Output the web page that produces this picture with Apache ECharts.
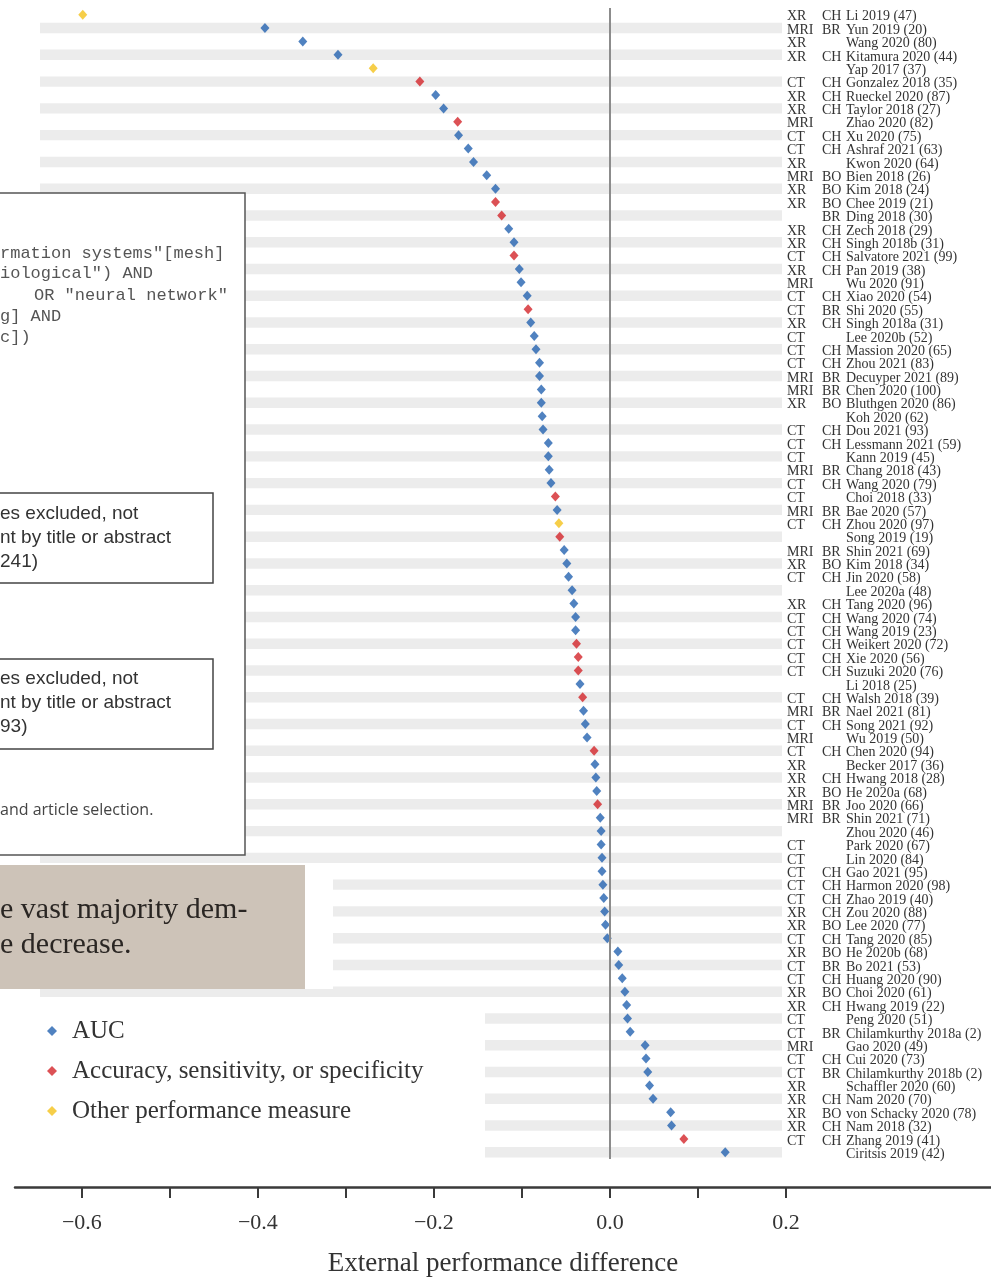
<!DOCTYPE html>
<html>
<head>
<meta charset="utf-8">
<script src="https://cdn.jsdelivr.net/npm/echarts@6/dist/echarts.min.js"></script>
<style>
  html, body { margin: 0; padding: 0; background: #fff; }
  #chart { width: 991px; height: 1277px; }
</style>
</head>
<body>
<div id="chart"></div>
<script>
// rows, top to bottom
var studies = ['Li 2019 (47)', 'Yun 2019 (20)', 'Wang 2020 (80)', 'Kitamura 2020 (44)', 'Yap 2017 (37)',
  'Gonzalez 2018 (35)', 'Rueckel 2020 (87)', 'Taylor 2018 (27)', 'Zhao 2020 (82)', 'Xu 2020 (75)',
  'Ashraf 2021 (63)', 'Kwon 2020 (64)', 'Bien 2018 (26)', 'Kim 2018 (24)', 'Chee 2019 (21)',
  'Ding 2018 (30)', 'Zech 2018 (29)', 'Singh 2018b (31)', 'Salvatore 2021 (99)', 'Pan 2019 (38)',
  'Wu 2020 (91)', 'Xiao 2020 (54)', 'Shi 2020 (55)', 'Singh 2018a (31)', 'Lee 2020b (52)',
  'Massion 2020 (65)', 'Zhou 2021 (83)', 'Decuyper 2021 (89)', 'Chen 2020 (100)', 'Bluthgen 2020 (86)',
  'Koh 2020 (62)', 'Dou 2021 (93)', 'Lessmann 2021 (59)', 'Kann 2019 (45)', 'Chang 2018 (43)',
  'Wang 2020 (79)', 'Choi 2018 (33)', 'Bae 2020 (57)', 'Zhou 2020 (97)', 'Song 2019 (19)',
  'Shin 2021 (69)', 'Kim 2018 (34)', 'Jin 2020 (58)', 'Lee 2020a (48)', 'Tang 2020 (96)',
  'Wang 2020 (74)', 'Wang 2019 (23)', 'Weikert 2020 (72)', 'Xie 2020 (56)', 'Suzuki 2020 (76)',
  'Li 2018 (25)', 'Walsh 2018 (39)', 'Nael 2021 (81)', 'Song 2021 (92)', 'Wu 2019 (50)',
  'Chen 2020 (94)', 'Becker 2017 (36)', 'Hwang 2018 (28)', 'He 2020a (68)', 'Joo 2020 (66)',
  'Shin 2021 (71)', 'Zhou 2020 (46)', 'Park 2020 (67)', 'Lin 2020 (84)', 'Gao 2021 (95)',
  'Harmon 2020 (98)', 'Zhao 2019 (40)', 'Zou 2020 (88)', 'Lee 2020 (77)', 'Tang 2020 (85)',
  'He 2020b (68)', 'Bo 2021 (53)', 'Huang 2020 (90)', 'Choi 2020 (61)', 'Hwang 2019 (22)',
  'Peng 2020 (51)', 'Chilamkurthy 2018a (2)', 'Gao 2020 (49)', 'Cui 2020 (73)', 'Chilamkurthy 2018b (2)',
  'Schaffler 2020 (60)', 'Nam 2020 (70)', 'von Schacky 2020 (78)', 'Nam 2018 (32)', 'Zhang 2019 (41)',
  'Ciritsis 2019 (42)'];

var modality = ['XR', 'MRI', 'XR', 'XR', '',
  'CT', 'XR', 'XR', 'MRI', 'CT',
  'CT', 'XR', 'MRI', 'XR', 'XR',
  '', 'XR', 'XR', 'CT', 'XR',
  'MRI', 'CT', 'CT', 'XR', 'CT',
  'CT', 'CT', 'MRI', 'MRI', 'XR',
  '', 'CT', 'CT', 'CT', 'MRI',
  'CT', 'CT', 'MRI', 'CT', '',
  'MRI', 'XR', 'CT', '', 'XR',
  'CT', 'CT', 'CT', 'CT', 'CT',
  '', 'CT', 'MRI', 'CT', 'MRI',
  'CT', 'XR', 'XR', 'XR', 'MRI',
  'MRI', '', 'CT', 'CT', 'CT',
  'CT', 'CT', 'XR', 'XR', 'CT',
  'XR', 'CT', 'CT', 'XR', 'XR',
  'CT', 'CT', 'MRI', 'CT', 'CT',
  'XR', 'XR', 'XR', 'XR', 'CT',
  ''];

var bodyPart = ['CH', 'BR', '', 'CH', '',
  'CH', 'CH', 'CH', '', 'CH',
  'CH', '', 'BO', 'BO', 'BO',
  'BR', 'CH', 'CH', 'CH', 'CH',
  '', 'CH', 'BR', 'CH', '',
  'CH', 'CH', 'BR', 'BR', 'BO',
  '', 'CH', 'CH', '', 'BR',
  'CH', '', 'BR', 'CH', '',
  'BR', 'BO', 'CH', '', 'CH',
  'CH', 'CH', 'CH', 'CH', 'CH',
  '', 'CH', 'BR', 'CH', '',
  'CH', '', 'CH', 'BO', 'BR',
  'BR', '', '', '', 'CH',
  'CH', 'CH', 'CH', 'BO', 'CH',
  'BO', 'BR', 'CH', 'BO', 'CH',
  '', 'BR', '', 'CH', 'BR',
  '', 'CH', 'BO', 'CH', 'CH',
  ''];

var perfDiff = [-0.599, -0.392, -0.349, -0.309, -0.269,
  -0.216, -0.198, -0.189, -0.173, -0.172,
  -0.161, -0.155, -0.140, -0.130, -0.130,
  -0.123, -0.115, -0.109, -0.109, -0.103,
  -0.101, -0.094, -0.093, -0.090, -0.086,
  -0.084, -0.080, -0.080, -0.078, -0.078,
  -0.077, -0.076, -0.070, -0.070, -0.069,
  -0.067, -0.062, -0.060, -0.058, -0.057,
  -0.052, -0.049, -0.047, -0.043, -0.041,
  -0.039, -0.039, -0.038, -0.036, -0.036,
  -0.034, -0.031, -0.030, -0.028, -0.026,
  -0.018, -0.017, -0.016, -0.015, -0.014,
  -0.011, -0.010, -0.010, -0.009, -0.009,
  -0.008, -0.007, -0.006, -0.005, -0.003,
  0.009, 0.010, 0.014, 0.017, 0.019,
  0.020, 0.023, 0.040, 0.041, 0.043,
  0.045, 0.049, 0.069, 0.070, 0.084,
  0.131];

// 0 = AUC, 1 = accuracy/sensitivity/specificity, 2 = other
var measure = [2, 0, 0, 0, 2,
  1, 0, 0, 1, 0,
  0, 0, 0, 0, 1,
  1, 0, 0, 1, 0,
  0, 0, 1, 0, 0,
  0, 0, 0, 0, 0,
  0, 0, 0, 0, 0,
  0, 1, 0, 2, 1,
  0, 0, 0, 0, 0,
  0, 0, 1, 1, 1,
  0, 1, 0, 0, 0,
  1, 0, 0, 0, 1,
  0, 0, 0, 0, 0,
  0, 0, 0, 0, 0,
  0, 0, 0, 0, 0,
  0, 0, 0, 0, 0,
  0, 0, 0, 0, 1,
  0];

var measureNames = ['AUC', 'Accuracy, sensitivity, or specificity', 'Other performance measure'];
var measureColors = ['#2463b0', '#d3262b', '#f4c21b'];
var tickValues = [-0.6, -0.5, -0.4, -0.3, -0.2, -0.1, 0, 0.1, 0.2];
var tickLabels = [-0.6, -0.4, -0.2, 0, 0.2];

var serif = '"Liberation Serif", "DejaVu Serif", serif';

var chart = echarts.init(document.getElementById('chart'));

var series = [];

// light grey stripe behind every second row
series.push({
  type: 'custom',
  xAxisIndex: 0,
  yAxisIndex: 0,
  z: 1,
  silent: true,
  encode: { x: 0, y: 1 },
  data: studies.map(function (s, i) { return [0, i]; }).filter(function (d) { return d[1] % 2 === 1; }),
  renderItem: function (params, api) {
    var c = api.coord([0, api.value(1)]);
    var h = api.size([0, 1])[1] * 0.78;
    return {
      type: 'rect',
      shape: { x: 40, y: c[1] - h / 2, width: 742, height: h },
      style: { fill: '#ececec' }
    };
  }
});

measureNames.forEach(function (name, k) {
  var s = {
    name: name,
    type: 'scatter',
    xAxisIndex: 0,
    yAxisIndex: 0,
    symbol: 'diamond',
    symbolSize: [9, 10],
    itemStyle: { color: measureColors[k] },
    data: perfDiff.map(function (v, i) { return measure[i] === k ? [v, i] : null; })
      .filter(function (d) { return d !== null; })
  };
  if (k === 0) {
    s.markLine = {
      silent: true,
      symbol: 'none',
      label: { show: false },
      lineStyle: { color: '#8c8c8c', width: 2, type: 'solid' },
      data: [{ xAxis: 0 }]
    };
  }
  series.push(s);
});

var option = {
  backgroundColor: '#fff',
  animation: false,
  grid: [
    { left: 15, right: 0, top: 8, height: 1151, outerBoundsMode: 'none' },
    { left: 786, right: 0, top: 8, height: 1151, outerBoundsMode: 'none' }
  ],
  xAxis: [
    {
      type: 'value',
      gridIndex: 0,
      min: -0.676,
      max: 0.433,
      offset: 28,
      axisLine: { show: true, lineStyle: { color: '#3a3a3a', width: 2.5 } },
      axisTick: { show: true, length: 11, customValues: tickValues, lineStyle: { color: '#3a3a3a', width: 2 } },
      axisLabel: {
        customValues: tickLabels,
        formatter: function (v) { return (v < 0 ? '\u2212' : '') + Math.abs(v).toFixed(1); },
        fontFamily: serif,
        fontSize: 22,
        color: '#333',
        margin: 25
      },
      splitLine: { show: false },
      name: 'External performance difference',
      nameLocation: 'middle',
      nameGap: 63,
      nameTextStyle: { fontFamily: serif, fontSize: 27, color: '#333' }
    },
    { type: 'value', gridIndex: 1, show: false }
  ],
  yAxis: [
    {
      type: 'category',
      gridIndex: 0,
      data: studies,
      inverse: true,
      show: false
    },
    {
      type: 'category',
      gridIndex: 1,
      data: studies,
      inverse: true,
      position: 'left',
      axisLine: { show: false },
      axisTick: { show: false },
      splitLine: { show: false },
      axisLabel: {
        inside: true,
        interval: 0,
        margin: 1,
        padding: [4, 0, 0, 0],
        formatter: function (value, idx) {
          var m = modality[idx] || '\u00a0';
          var b = bodyPart[idx] || '\u00a0';
          return '{m|' + m + '}{b|' + b + '}{n|' + value + '}';
        },
        rich: {
          m: { width: 35, fontFamily: serif, fontSize: 14, color: '#333' },
          b: { width: 24, fontFamily: serif, fontSize: 14, color: '#333' },
          n: { fontFamily: serif, fontSize: 14, color: '#333' }
        }
      }
    }
  ],
  legend: {
    orient: 'vertical',
    left: 42,
    top: 1013,
    z: 20,
    icon: 'diamond',
    itemWidth: 10,
    itemHeight: 10,
    itemGap: 14,
    selectedMode: false,
    data: measureNames,
    textStyle: { fontFamily: serif, fontSize: 25, lineHeight: 26, color: '#333', padding: [0, 0, 0, 10] }
  },
  graphic: [
    // flow chart page lying over the plot
    { type: 'rect', z: 10, silent: true, shape: { x: -2, y: 193, width: 247, height: 662 },
      style: { fill: '#fff', stroke: '#555', lineWidth: 1.5 } },
    { type: 'text', z: 11, x: 0, y: 253, style: { text: 'rmation systems"[mesh]', font: '17px "Liberation Mono", monospace', fill: '#555', verticalAlign: 'middle' } },
    { type: 'text', z: 11, x: 0, y: 273, style: { text: 'iological") AND', font: '17px "Liberation Mono", monospace', fill: '#555', verticalAlign: 'middle' } },
    { type: 'text', z: 11, x: 34, y: 295, style: { text: 'OR "neural network"', font: '17px "Liberation Mono", monospace', fill: '#555', verticalAlign: 'middle' } },
    { type: 'text', z: 11, x: 0, y: 316, style: { text: 'g] AND', font: '17px "Liberation Mono", monospace', fill: '#555', verticalAlign: 'middle' } },
    { type: 'text', z: 11, x: 0, y: 337, style: { text: 'c])', font: '17px "Liberation Mono", monospace', fill: '#555', verticalAlign: 'middle' } },
    { type: 'rect', z: 11, silent: true, shape: { x: -2, y: 493, width: 215, height: 90 },
      style: { fill: '#fff', stroke: '#444', lineWidth: 1.5 } },
    { type: 'text', z: 12, x: 0, y: 514, style: { text: 'es excluded, not', font: '19px "Liberation Sans", Arial, sans-serif', fill: '#333', verticalAlign: 'middle' } },
    { type: 'text', z: 12, x: 0, y: 538, style: { text: 'nt by title or abstract', font: '19px "Liberation Sans", Arial, sans-serif', fill: '#333', verticalAlign: 'middle' } },
    { type: 'text', z: 12, x: 0, y: 562, style: { text: '241)', font: '19px "Liberation Sans", Arial, sans-serif', fill: '#333', verticalAlign: 'middle' } },
    { type: 'rect', z: 11, silent: true, shape: { x: -2, y: 659, width: 215, height: 90 },
      style: { fill: '#fff', stroke: '#444', lineWidth: 1.5 } },
    { type: 'text', z: 12, x: 0, y: 679, style: { text: 'es excluded, not', font: '19px "Liberation Sans", Arial, sans-serif', fill: '#333', verticalAlign: 'middle' } },
    { type: 'text', z: 12, x: 0, y: 703, style: { text: 'nt by title or abstract', font: '19px "Liberation Sans", Arial, sans-serif', fill: '#333', verticalAlign: 'middle' } },
    { type: 'text', z: 12, x: 0, y: 727, style: { text: '93)', font: '19px "Liberation Sans", Arial, sans-serif', fill: '#333', verticalAlign: 'middle' } },
    { type: 'text', z: 12, x: 0, y: 810, style: { text: 'and article selection.', font: '16px "Open Sans", sans-serif', fill: '#444', verticalAlign: 'middle' } },
    // beige call-out box
    { type: 'rect', z: 10, silent: true, shape: { x: 0, y: 864, width: 333, height: 125 }, style: { fill: '#fff' } },
    { type: 'rect', z: 11, silent: true, shape: { x: 0, y: 865, width: 305, height: 124 }, style: { fill: '#cdc3b8' } },
    { type: 'text', z: 12, x: 0, y: 910, style: { text: 'e vast majority dem-', font: '30px ' + serif, fill: '#2a2623', verticalAlign: 'middle' } },
    { type: 'text', z: 12, x: 0, y: 945, style: { text: 'e decrease.', font: '30px ' + serif, fill: '#2a2623', verticalAlign: 'middle' } },
    // white ground behind the legend
    { type: 'rect', z: 10, silent: true, shape: { x: 0, y: 999, width: 485, height: 166 }, style: { fill: '#fff' } }
  ],
  series: series
};

chart.setOption(option);
</script>
</body>
</html>
